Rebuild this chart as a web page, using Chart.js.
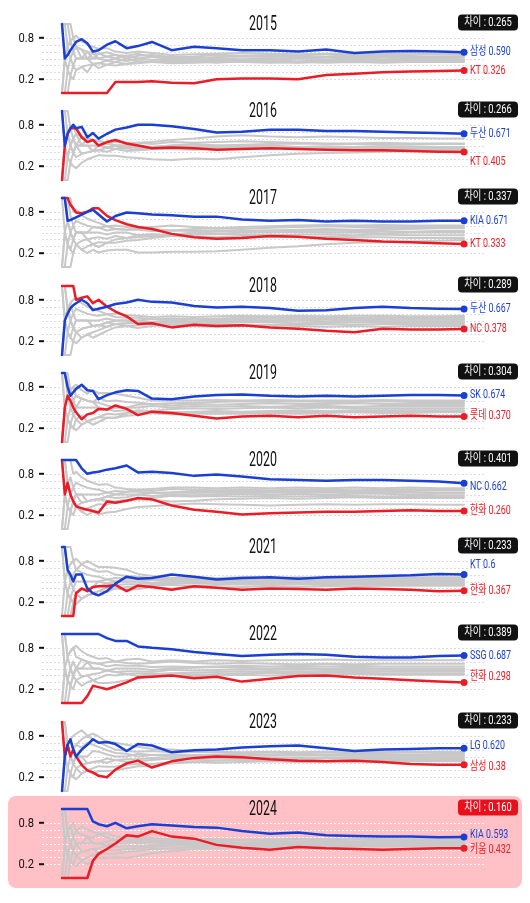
<!DOCTYPE html>
<html>
<head>
<meta charset="utf-8">
<script src="https://cdn.jsdelivr.net/npm/chart.js@4.4.1/dist/chart.umd.min.js"></script>
<style>
  body { margin: 0; background: #fff; }
  #page { position: relative; width: 530px; height: 903px; overflow: hidden; }
  #hl { position: absolute; left: 8px; top: 796px; width: 514px; height: 92px; background: #ffc1c6; border-radius: 8px; }
  canvas { position: absolute; left: 0; }
</style>
</head>
<body>
<div id="page"><div id="hl"></div></div>
<script>
// game number of each sampled point
const games = [1,2,3,4,5,6, 8,10,12,14, 17,20,24,28, 33,40,48,56, 65,75,85,95, 105,115,125,135, 144];
const years = [2015,2016,2017,2018,2019,2020,2021,2022,2023,2024];
const gapText = ['0.265','0.266','0.337','0.289','0.304','0.401','0.233','0.389','0.233','0.160'];
const topTeam = ['삼성','두산','KIA','두산','SK','NC','KT','SSG','LG','KIA'];
const topText = ['0.590','0.671','0.671','0.667','0.674','0.662','0.6','0.687','0.620','0.593'];
const bottomTeam = ['KT','KT','KT','NC','롯데','한화','한화','한화','삼성','키움'];
const bottomText = ['0.326','0.405','0.333','0.378','0.370','0.260','0.367','0.298','0.38','0.432'];
const gridValues = [0.2,0.3,0.4,0.5,0.6,0.7,0.8];
const tickValues = [0.8,0.2];

// win percentage of first / last team
const top2015 = [1,0.5,0.55,0.62,0.68,0.74, 0.78,0.72,0.6,0.62, 0.7,0.75,0.65,0.68, 0.74,0.62,0.67,0.65, 0.62,0.62,0.6,0.63, 0.58,0.6,0.61,0.6, 0.59];
const bottom2015 = [0,0,0,0,0,0, 0,0,0,0, 0,0.16,0.16,0.16, 0.17,0.15,0.14,0.2, 0.21,0.21,0.2,0.26, 0.28,0.3,0.31,0.32, 0.326];
const top2016 = [1,0.5,0.67,0.75,0.8,0.75, 0.77,0.62,0.68,0.6, 0.67,0.73,0.76,0.8, 0.8,0.78,0.74,0.69, 0.7,0.73,0.73,0.71, 0.71,0.7,0.69,0.68, 0.671];
const bottom2016 = [0,0.5,0.67,0.75,0.75,0.75, 0.62,0.55,0.58,0.5, 0.55,0.58,0.53,0.5, 0.46,0.47,0.46,0.44, 0.45,0.46,0.45,0.44, 0.43,0.43,0.42,0.41, 0.405];
const top2017 = [1,1,0.67,0.68,0.7,0.72, 0.76,0.8,0.83,0.76, 0.66,0.74,0.79,0.78, 0.76,0.75,0.73,0.73, 0.69,0.67,0.68,0.66, 0.67,0.66,0.66,0.67, 0.671];
const bottom2017 = [1,1,1,0.9,0.85,0.79, 0.78,0.8,0.85,0.85, 0.74,0.68,0.62,0.58, 0.55,0.48,0.43,0.41, 0.42,0.45,0.44,0.41, 0.39,0.37,0.36,0.345, 0.333];
const top2018 = [0,0.5,0.6,0.68,0.72,0.75, 0.8,0.75,0.65,0.67, 0.7,0.74,0.76,0.8, 0.77,0.76,0.71,0.69, 0.7,0.68,0.64,0.65, 0.68,0.7,0.68,0.67, 0.667];
const bottom2018 = [1,1,1,1,1,0.8, 0.83,0.85,0.75,0.8, 0.7,0.63,0.56,0.45, 0.46,0.4,0.44,0.42, 0.43,0.4,0.38,0.35, 0.33,0.38,0.37,0.37, 0.378];
const top2019 = [1,1,0.8,0.67,0.72,0.77, 0.83,0.75,0.74,0.62, 0.68,0.72,0.75,0.74, 0.63,0.62,0.66,0.68, 0.69,0.67,0.66,0.67, 0.66,0.67,0.68,0.68, 0.674];
const bottom2019 = [0,0.5,0.67,0.6,0.5,0.43, 0.33,0.4,0.42,0.48, 0.47,0.53,0.48,0.39, 0.44,0.42,0.38,0.34, 0.37,0.38,0.36,0.38, 0.36,0.37,0.38,0.37, 0.37];
const top2020 = [1,1,1,1,1,1, 0.88,0.8,0.82,0.83, 0.86,0.88,0.92,0.82, 0.83,0.81,0.77,0.79, 0.76,0.72,0.71,0.7, 0.71,0.71,0.7,0.69, 0.662];
const bottom2020 = [1,0.5,0.67,0.5,0.4,0.33, 0.3,0.28,0.26,0.24, 0.4,0.38,0.41,0.45, 0.43,0.34,0.28,0.25, 0.21,0.23,0.24,0.25, 0.25,0.26,0.27,0.26, 0.26];
const top2021 = [1,1,0.67,0.6,0.5,0.6, 0.6,0.4,0.33,0.3, 0.36,0.47,0.57,0.54, 0.55,0.6,0.57,0.53, 0.55,0.56,0.54,0.56, 0.57,0.58,0.59,0.61, 0.6];
const bottom2021 = [0,0,0,0,0,0.33, 0.4,0.36,0.42,0.43, 0.43,0.45,0.36,0.44, 0.42,0.38,0.43,0.41, 0.38,0.4,0.39,0.38, 0.4,0.39,0.38,0.36, 0.367];
const top2022 = [1,1,1,1,1,1, 1,1,1,1, 0.94,0.9,0.9,0.82, 0.8,0.78,0.74,0.71, 0.68,0.7,0.71,0.7, 0.67,0.66,0.66,0.68, 0.687];
const bottom2022 = [0,0,0,0,0,0, 0,0.1,0.25,0.23, 0.2,0.24,0.3,0.37, 0.38,0.4,0.36,0.38, 0.31,0.35,0.39,0.4, 0.37,0.35,0.33,0.31, 0.298];
const top2023 = [0,0.5,0.67,0.75,0.6,0.5, 0.6,0.67,0.75,0.7, 0.71,0.68,0.58,0.68, 0.66,0.56,0.59,0.6, 0.63,0.65,0.66,0.62, 0.58,0.6,0.61,0.62, 0.62];
const bottom2023 = [1,0.5,0.67,0.5,0.6,0.5, 0.38,0.3,0.27,0.22, 0.2,0.31,0.4,0.44, 0.34,0.43,0.48,0.5, 0.49,0.46,0.44,0.43, 0.44,0.42,0.39,0.38, 0.38];
const top2024 = [1,1,1,1,1,1, 1,1,0.82,0.78, 0.75,0.8,0.72,0.75, 0.78,0.76,0.74,0.73, 0.68,0.64,0.66,0.62, 0.61,0.6,0.6,0.59, 0.593];
const bottom2024 = [0,0,0,0,0,0, 0,0,0.25,0.35, 0.42,0.5,0.62,0.6, 0.68,0.6,0.57,0.48, 0.44,0.41,0.45,0.43, 0.42,0.41,0.42,0.43, 0.432];

// the other eight teams
const others2015 = [
  [1,1,1,1,0.8,0.83, 0.75,0.7,0.67,0.64, 0.65,0.6,0.58,0.6, 0.58,0.55,0.56,0.57, 0.58,0.57,0.56,0.57, 0.56,0.57,0.56,0.57, 0.57],
  [1,1,0.67,0.75,0.6,0.67, 0.63,0.6,0.5,0.57, 0.59,0.55,0.54,0.5, 0.52,0.53,0.5,0.52, 0.53,0.52,0.54,0.53, 0.55,0.54,0.55,0.56, 0.55],
  [0,0.5,0.33,0.5,0.6,0.5, 0.5,0.5,0.58,0.5, 0.47,0.5,0.46,0.5, 0.48,0.5,0.52,0.5, 0.49,0.5,0.51,0.52, 0.53,0.53,0.52,0.53, 0.53],
  [0,0,0.33,0.25,0.4,0.33, 0.38,0.4,0.42,0.43, 0.47,0.45,0.5,0.54, 0.55,0.52,0.53,0.55, 0.54,0.55,0.53,0.52, 0.51,0.52,0.51,0.52, 0.52],
  [1,0.5,0.67,0.5,0.4,0.5, 0.5,0.6,0.58,0.57, 0.53,0.55,0.5,0.46, 0.45,0.48,0.47,0.48, 0.47,0.48,0.5,0.49, 0.5,0.49,0.5,0.5, 0.49],
  [0,0,0,0.25,0.2,0.33, 0.38,0.3,0.42,0.36, 0.41,0.45,0.42,0.43, 0.45,0.45,0.46,0.44, 0.46,0.47,0.46,0.47, 0.48,0.47,0.48,0.48, 0.48],
  [1,1,1,0.75,0.8,0.67, 0.5,0.5,0.42,0.43, 0.41,0.4,0.42,0.46, 0.45,0.43,0.44,0.45, 0.46,0.45,0.44,0.46, 0.45,0.46,0.47,0.46, 0.47],
  [0,0.5,0.67,0.75,0.6,0.67, 0.63,0.5,0.5,0.5, 0.53,0.5,0.54,0.57, 0.52,0.5,0.48,0.47, 0.45,0.44,0.45,0.44, 0.45,0.44,0.45,0.45, 0.45]
];
const others2016 = [
  [0,0.5,0.33,0.5,0.4,0.5, 0.5,0.5,0.5,0.5, 0.53,0.5,0.5,0.54, 0.55,0.58,0.6,0.63, 0.65,0.63,0.62,0.63, 0.62,0.61,0.61,0.6, 0.6],
  [1,1,0.67,0.5,0.6,0.5, 0.5,0.6,0.58,0.57, 0.53,0.55,0.54,0.54, 0.52,0.55,0.54,0.55, 0.56,0.55,0.54,0.53, 0.53,0.54,0.53,0.53, 0.53],
  [1,0.5,0.67,0.75,0.6,0.5, 0.63,0.6,0.58,0.5, 0.47,0.5,0.5,0.46, 0.48,0.5,0.52,0.5, 0.51,0.52,0.53,0.52, 0.52,0.51,0.51,0.52, 0.52],
  [0,0,0,0.25,0.2,0.17, 0.25,0.3,0.33,0.36, 0.35,0.35,0.33,0.32, 0.3,0.29,0.31,0.3, 0.33,0.36,0.38,0.39, 0.4,0.41,0.42,0.42, 0.43],
  [1,1,1,0.75,0.8,0.67, 0.63,0.6,0.58,0.57, 0.53,0.5,0.46,0.5, 0.48,0.5,0.49,0.5, 0.49,0.5,0.48,0.49, 0.48,0.49,0.48,0.48, 0.48],
  [0,0.5,0.33,0.25,0.4,0.33, 0.38,0.4,0.42,0.43, 0.47,0.45,0.5,0.46, 0.45,0.48,0.47,0.46, 0.47,0.46,0.47,0.46, 0.47,0.47,0.46,0.47, 0.47],
  [1,0.5,0.67,0.5,0.6,0.67, 0.5,0.5,0.42,0.43, 0.41,0.45,0.42,0.43, 0.45,0.45,0.44,0.46, 0.45,0.46,0.47,0.46, 0.45,0.46,0.45,0.46, 0.45],
  [0,0,0.33,0.5,0.4,0.5, 0.38,0.4,0.42,0.5, 0.47,0.45,0.46,0.43, 0.45,0.47,0.48,0.49, 0.48,0.47,0.46,0.45, 0.46,0.45,0.44,0.44, 0.44]
];
const others2017 = [
  [1,1,1,0.75,0.6,0.67, 0.63,0.6,0.58,0.57, 0.59,0.6,0.58,0.57, 0.58,0.6,0.58,0.56, 0.58,0.59,0.6,0.61, 0.6,0.61,0.6,0.6, 0.6],
  [1,1,1,1,0.8,0.83, 0.75,0.7,0.67,0.64, 0.59,0.55,0.54,0.57, 0.55,0.53,0.55,0.56, 0.55,0.57,0.58,0.59, 0.58,0.58,0.58,0.58, 0.58],
  [0,0.5,0.67,0.5,0.6,0.5, 0.5,0.5,0.58,0.57, 0.53,0.55,0.54,0.54, 0.52,0.53,0.52,0.53, 0.52,0.53,0.54,0.55, 0.54,0.55,0.55,0.56, 0.56],
  [0,0,0.33,0.25,0.2,0.33, 0.38,0.4,0.33,0.36, 0.35,0.4,0.42,0.46, 0.45,0.47,0.5,0.51, 0.52,0.53,0.52,0.53, 0.52,0.52,0.51,0.52, 0.52],
  [0,0,0,0,0.2,0.33, 0.25,0.3,0.33,0.29, 0.35,0.35,0.38,0.39, 0.42,0.45,0.47,0.48, 0.5,0.5,0.51,0.5, 0.5,0.49,0.5,0.5, 0.5],
  [1,0.5,0.33,0.5,0.4,0.5, 0.5,0.5,0.5,0.5, 0.47,0.5,0.5,0.46, 0.48,0.45,0.47,0.48, 0.47,0.46,0.47,0.47, 0.46,0.47,0.46,0.46, 0.46],
  [0,0.5,0.33,0.25,0.4,0.33, 0.25,0.2,0.25,0.21, 0.24,0.25,0.25,0.21, 0.21,0.22,0.22,0.23, 0.25,0.28,0.3,0.33, 0.35,0.36,0.37,0.38, 0.39],
  [1,1,0.67,0.5,0.4,0.5, 0.5,0.4,0.42,0.43, 0.41,0.45,0.42,0.43, 0.45,0.45,0.44,0.43, 0.45,0.44,0.43,0.44, 0.43,0.43,0.42,0.42, 0.42]
];
const others2018 = [
  [1,1,0.67,0.75,0.8,0.83, 0.75,0.7,0.67,0.64, 0.59,0.6,0.58,0.57, 0.55,0.56,0.55,0.56, 0.57,0.56,0.57,0.56, 0.57,0.57,0.56,0.56, 0.57],
  [1,0.5,0.67,0.5,0.6,0.67, 0.63,0.6,0.58,0.57, 0.59,0.55,0.54,0.54, 0.52,0.53,0.52,0.53, 0.54,0.55,0.54,0.55, 0.54,0.55,0.55,0.55, 0.55],
  [0,0.5,0.67,0.75,0.6,0.5, 0.5,0.5,0.5,0.5, 0.53,0.5,0.5,0.5, 0.48,0.5,0.52,0.51, 0.52,0.53,0.52,0.53, 0.53,0.52,0.53,0.53, 0.53],
  [0,0,0.33,0.25,0.4,0.33, 0.38,0.4,0.42,0.43, 0.47,0.45,0.46,0.5, 0.52,0.5,0.49,0.5, 0.51,0.5,0.51,0.52, 0.51,0.51,0.51,0.51, 0.51],
  [1,0.5,0.33,0.25,0.2,0.33, 0.38,0.4,0.42,0.43, 0.47,0.5,0.5,0.46, 0.48,0.47,0.48,0.49, 0.48,0.49,0.5,0.49, 0.5,0.49,0.49,0.49, 0.49],
  [0,0,0,0,0.2,0.17, 0.25,0.3,0.33,0.36, 0.41,0.45,0.46,0.46, 0.45,0.47,0.46,0.47, 0.48,0.47,0.46,0.47, 0.47,0.48,0.47,0.47, 0.47],
  [0,0.5,0.33,0.5,0.4,0.33, 0.25,0.3,0.25,0.29, 0.35,0.4,0.42,0.43, 0.45,0.43,0.44,0.45, 0.44,0.43,0.44,0.45, 0.44,0.45,0.45,0.45, 0.45],
  [1,1,0.67,0.5,0.4,0.5, 0.5,0.5,0.42,0.43, 0.41,0.45,0.42,0.39, 0.42,0.44,0.42,0.41, 0.42,0.43,0.42,0.41, 0.42,0.41,0.42,0.42, 0.42]
];
const others2019 = [
  [1,1,1,0.75,0.8,0.83, 0.75,0.7,0.75,0.71, 0.71,0.7,0.67,0.64, 0.6,0.6,0.6,0.61, 0.6,0.61,0.6,0.6, 0.6,0.61,0.6,0.6, 0.6],
  [1,1,0.67,0.75,0.6,0.67, 0.63,0.6,0.58,0.64, 0.59,0.6,0.58,0.57, 0.55,0.56,0.57,0.58, 0.59,0.58,0.59,0.58, 0.58,0.59,0.58,0.58, 0.58],
  [0,0.5,0.67,0.5,0.6,0.5, 0.63,0.6,0.58,0.57, 0.53,0.5,0.5,0.54, 0.55,0.53,0.55,0.54, 0.55,0.56,0.55,0.55, 0.56,0.55,0.55,0.55, 0.55],
  [1,0.5,0.33,0.5,0.4,0.5, 0.5,0.5,0.5,0.5, 0.47,0.5,0.5,0.5, 0.52,0.5,0.52,0.51, 0.52,0.51,0.52,0.52, 0.51,0.52,0.52,0.52, 0.52],
  [0,0,0.33,0.25,0.4,0.33, 0.38,0.3,0.33,0.36, 0.41,0.4,0.42,0.46, 0.45,0.48,0.49,0.48, 0.49,0.5,0.49,0.5, 0.49,0.49,0.49,0.49, 0.49],
  [0,0,0,0.25,0.2,0.17, 0.25,0.3,0.25,0.29, 0.35,0.35,0.38,0.39, 0.42,0.43,0.44,0.45, 0.44,0.45,0.46,0.45, 0.46,0.46,0.46,0.46, 0.46],
  [1,0.5,0.33,0.25,0.2,0.33, 0.25,0.3,0.33,0.36, 0.35,0.35,0.42,0.43, 0.42,0.43,0.42,0.41, 0.42,0.43,0.44,0.43, 0.44,0.44,0.44,0.44, 0.44],
  [0,0.5,0.67,0.75,0.8,0.67, 0.63,0.6,0.58,0.5, 0.47,0.45,0.46,0.43, 0.42,0.4,0.41,0.42, 0.41,0.42,0.41,0.42, 0.43,0.42,0.42,0.43, 0.43]
];
const others2020 = [
  [1,1,1,1,0.8,0.83, 0.75,0.7,0.67,0.64, 0.65,0.6,0.58,0.57, 0.58,0.6,0.6,0.59, 0.6,0.59,0.6,0.59, 0.6,0.59,0.6,0.59, 0.59],
  [1,1,0.67,0.75,0.6,0.67, 0.63,0.6,0.58,0.57, 0.53,0.55,0.54,0.57, 0.55,0.58,0.57,0.56, 0.57,0.56,0.57,0.57, 0.56,0.57,0.57,0.57, 0.57],
  [0,0.5,0.67,0.5,0.6,0.5, 0.5,0.5,0.5,0.5, 0.53,0.5,0.54,0.54, 0.52,0.53,0.55,0.54, 0.55,0.54,0.55,0.55, 0.55,0.55,0.55,0.56, 0.56],
  [1,0.5,0.33,0.5,0.4,0.5, 0.38,0.4,0.42,0.43, 0.47,0.5,0.5,0.5, 0.52,0.53,0.52,0.53, 0.52,0.53,0.54,0.53, 0.54,0.53,0.53,0.53, 0.53],
  [0,0,0.33,0.25,0.4,0.33, 0.38,0.4,0.42,0.43, 0.47,0.45,0.46,0.5, 0.48,0.5,0.49,0.5, 0.51,0.5,0.51,0.5, 0.51,0.51,0.5,0.51, 0.51],
  [0,0,0,0.25,0.2,0.33, 0.25,0.3,0.33,0.36, 0.35,0.4,0.42,0.43, 0.45,0.48,0.47,0.48, 0.47,0.48,0.47,0.48, 0.48,0.47,0.48,0.48, 0.48],
  [1,1,0.67,0.5,0.4,0.33, 0.25,0.2,0.25,0.21, 0.24,0.25,0.29,0.32, 0.33,0.35,0.37,0.36, 0.35,0.34,0.35,0.36, 0.35,0.36,0.36,0.35, 0.35],
  [0,0.5,0.33,0.25,0.4,0.5, 0.5,0.4,0.42,0.43, 0.41,0.4,0.42,0.43, 0.42,0.4,0.41,0.43, 0.44,0.45,0.44,0.45, 0.46,0.45,0.45,0.45, 0.45]
];
const others2021 = [
  [1,1,1,1,0.8,0.83, 0.75,0.8,0.75,0.71, 0.71,0.7,0.67,0.61, 0.58,0.55,0.56,0.55, 0.56,0.55,0.56,0.55, 0.56,0.55,0.56,0.56, 0.56],
  [1,1,0.67,0.75,0.8,0.67, 0.75,0.7,0.67,0.64, 0.65,0.6,0.58,0.57, 0.55,0.53,0.54,0.55, 0.54,0.55,0.54,0.55, 0.54,0.54,0.55,0.54, 0.54],
  [1,0.5,0.67,0.5,0.6,0.67, 0.63,0.6,0.58,0.57, 0.53,0.55,0.54,0.54, 0.52,0.53,0.52,0.53, 0.52,0.53,0.52,0.53, 0.52,0.52,0.52,0.53, 0.53],
  [0,0.5,0.33,0.5,0.4,0.5, 0.5,0.5,0.5,0.5, 0.53,0.5,0.5,0.5, 0.52,0.5,0.51,0.5, 0.51,0.5,0.51,0.5, 0.51,0.51,0.51,0.51, 0.51],
  [0,0,0.33,0.25,0.4,0.33, 0.38,0.4,0.42,0.43, 0.47,0.45,0.46,0.46, 0.48,0.5,0.49,0.5, 0.49,0.5,0.49,0.5, 0.49,0.5,0.5,0.5, 0.5],
  [0,0,0,0.25,0.2,0.33, 0.38,0.4,0.42,0.5, 0.47,0.5,0.5,0.5, 0.48,0.47,0.48,0.47, 0.48,0.47,0.48,0.47, 0.48,0.48,0.48,0.48, 0.48],
  [1,0.5,0.33,0.25,0.2,0.17, 0.25,0.3,0.33,0.36, 0.41,0.4,0.42,0.43, 0.45,0.45,0.44,0.45, 0.46,0.45,0.46,0.45, 0.46,0.46,0.46,0.46, 0.46],
  [0,0,0,0,0.2,0.33, 0.25,0.3,0.33,0.36, 0.35,0.4,0.38,0.39, 0.42,0.4,0.42,0.41, 0.42,0.43,0.42,0.43, 0.43,0.44,0.44,0.44, 0.44]
];
const others2022 = [
  [1,1,0.67,0.75,0.8,0.83, 0.75,0.7,0.67,0.64, 0.65,0.6,0.63,0.64, 0.6,0.62,0.6,0.62, 0.61,0.62,0.62,0.63, 0.62,0.62,0.62,0.62, 0.62],
  [0,0.5,0.67,0.75,0.8,0.67, 0.63,0.6,0.58,0.57, 0.59,0.6,0.58,0.57, 0.58,0.6,0.58,0.57, 0.58,0.57,0.56,0.57, 0.56,0.57,0.57,0.57, 0.57],
  [1,0.5,0.33,0.5,0.6,0.5, 0.63,0.6,0.58,0.57, 0.53,0.55,0.54,0.54, 0.52,0.53,0.52,0.53, 0.54,0.53,0.54,0.53, 0.54,0.53,0.53,0.53, 0.53],
  [1,1,0.67,0.5,0.4,0.5, 0.5,0.5,0.5,0.5, 0.47,0.5,0.5,0.5, 0.48,0.5,0.51,0.52, 0.51,0.5,0.51,0.5, 0.51,0.5,0.5,0.5, 0.5],
  [0,0,0.33,0.25,0.4,0.33, 0.38,0.4,0.42,0.43, 0.47,0.45,0.46,0.46, 0.45,0.48,0.47,0.48, 0.49,0.48,0.49,0.48, 0.48,0.49,0.48,0.48, 0.48],
  [0,0.5,0.33,0.5,0.4,0.5, 0.38,0.4,0.33,0.36, 0.41,0.4,0.42,0.39, 0.42,0.43,0.44,0.45, 0.46,0.45,0.46,0.45, 0.46,0.46,0.46,0.46, 0.46],
  [1,0.5,0.33,0.25,0.2,0.33, 0.25,0.3,0.33,0.29, 0.29,0.3,0.33,0.36, 0.39,0.4,0.41,0.42, 0.43,0.44,0.43,0.44, 0.44,0.43,0.43,0.43, 0.43],
  [0,0,0,0.25,0.4,0.5, 0.5,0.6,0.5,0.5, 0.47,0.45,0.42,0.43, 0.42,0.4,0.39,0.4, 0.41,0.4,0.41,0.41, 0.42,0.41,0.41,0.41, 0.41]
];
const others2023 = [
  [1,1,0.67,0.75,0.8,0.83, 0.88,0.8,0.83,0.79, 0.71,0.7,0.67,0.64, 0.61,0.6,0.58,0.57, 0.56,0.57,0.56,0.57, 0.56,0.57,0.57,0.57, 0.57],
  [1,0.5,0.67,0.75,0.6,0.67, 0.75,0.8,0.75,0.71, 0.65,0.6,0.58,0.57, 0.58,0.56,0.57,0.56, 0.55,0.56,0.55,0.56, 0.55,0.55,0.56,0.55, 0.55],
  [0,0.5,0.67,0.5,0.6,0.67, 0.63,0.7,0.67,0.64, 0.59,0.55,0.54,0.5, 0.52,0.53,0.52,0.53, 0.54,0.53,0.54,0.53, 0.54,0.53,0.53,0.53, 0.53],
  [0,0.5,0.33,0.5,0.4,0.5, 0.5,0.5,0.58,0.57, 0.53,0.5,0.5,0.54, 0.52,0.5,0.51,0.52, 0.51,0.52,0.51,0.52, 0.51,0.51,0.51,0.51, 0.51],
  [1,0.5,0.33,0.25,0.4,0.5, 0.5,0.4,0.42,0.43, 0.47,0.45,0.46,0.46, 0.48,0.47,0.48,0.49, 0.48,0.49,0.48,0.49, 0.49,0.49,0.49,0.49, 0.49],
  [0,0,0.33,0.25,0.2,0.33, 0.38,0.4,0.42,0.43, 0.41,0.45,0.42,0.43, 0.45,0.47,0.46,0.47, 0.46,0.47,0.46,0.47, 0.47,0.47,0.47,0.47, 0.47],
  [0,0,0,0.25,0.2,0.17, 0.25,0.3,0.33,0.36, 0.35,0.35,0.38,0.39, 0.39,0.42,0.43,0.44, 0.45,0.44,0.45,0.44, 0.45,0.45,0.45,0.45, 0.45],
  [1,1,0.67,0.5,0.4,0.33, 0.25,0.3,0.25,0.29, 0.29,0.3,0.33,0.36, 0.36,0.4,0.42,0.41, 0.42,0.43,0.42,0.43, 0.43,0.43,0.43,0.43, 0.43]
];
const others2024 = [
  [1,1,0.67,0.75,0.8,0.67, 0.75,0.7,0.67,0.64, 0.65,0.6,0.58,0.6, 0.58,0.56,0.57,0.56, 0.55,0.56,0.57,0.56, 0.57,0.56,0.56,0.56, 0.56],
  [1,0.5,0.67,0.75,0.6,0.67, 0.63,0.6,0.58,0.64, 0.59,0.55,0.54,0.57, 0.55,0.53,0.55,0.54, 0.55,0.54,0.53,0.54, 0.53,0.54,0.54,0.54, 0.54],
  [0,0.5,0.67,0.5,0.6,0.5, 0.5,0.5,0.5,0.5, 0.53,0.55,0.54,0.5, 0.52,0.5,0.51,0.52, 0.51,0.52,0.52,0.53, 0.52,0.52,0.52,0.52, 0.52],
  [1,1,0.67,0.5,0.4,0.5, 0.5,0.6,0.5,0.5, 0.47,0.5,0.5,0.54, 0.52,0.53,0.52,0.51, 0.5,0.51,0.5,0.51, 0.5,0.51,0.51,0.51, 0.51],
  [0,0,0.33,0.5,0.4,0.5, 0.38,0.4,0.42,0.43, 0.47,0.45,0.46,0.46, 0.48,0.5,0.49,0.5, 0.49,0.5,0.49,0.5, 0.49,0.5,0.5,0.5, 0.5],
  [0,0.5,0.33,0.25,0.4,0.33, 0.38,0.4,0.42,0.36, 0.41,0.4,0.42,0.43, 0.45,0.47,0.48,0.47, 0.48,0.49,0.48,0.48, 0.49,0.48,0.48,0.48, 0.48],
  [1,0.5,0.33,0.25,0.2,0.33, 0.25,0.3,0.33,0.36, 0.35,0.35,0.38,0.39, 0.42,0.43,0.45,0.46, 0.47,0.46,0.47,0.46, 0.47,0.47,0.47,0.47, 0.47],
  [0,0,0,0.25,0.2,0.17, 0.25,0.2,0.25,0.29, 0.29,0.3,0.29,0.32, 0.36,0.39,0.42,0.43, 0.44,0.45,0.46,0.45, 0.46,0.46,0.46,0.46, 0.46]
];

const tops = [top2015, top2016, top2017, top2018, top2019, top2020, top2021, top2022, top2023, top2024];
const bottoms = [bottom2015, bottom2016, bottom2017, bottom2018, bottom2019, bottom2020, bottom2021, bottom2022, bottom2023, bottom2024];
const others = [others2015, others2016, others2017, others2018, others2019, others2020, others2021, others2022, others2023, others2024];

// label shifts so end labels don't collide
const topNudge = [0, 0, 0, 0, 0, 4, -10, 0, -2, -2];
const bottomNudge = [0, 10, 0, 0, 0, 0, 0, -5, 2, 2];

const BLUE = '#1b3fd3';
const RED = '#ec1c26';
const GREY = '#c8c8c8';
const FONT = 'Roboto, "Noto Sans CJK KR", sans-serif';

function squeezeText(ctx, txt, x, y, align, sx) {
  ctx.save();
  ctx.translate(x, y);
  ctx.scale(sx, 1);
  ctx.textAlign = align;
  ctx.fillText(txt, 0, 0);
  ctx.restore();
}

const decor = {
  id: 'decor',
  beforeDatasetsDraw(chart, args, o) {
    const ctx = chart.ctx, ys = chart.scales.y;
    ctx.save();
    ctx.strokeStyle = o.gridColor;
    ctx.lineWidth = 1;
    ctx.setLineDash([2, 2]);
    gridValues.forEach(v => {
      const py = Math.round(ys.getPixelForValue(v)) + 0.5;
      ctx.beginPath(); ctx.moveTo(42, py); ctx.lineTo(484, py); ctx.stroke();
    });
    ctx.setLineDash([]);
    ctx.fillStyle = '#111';
    ctx.strokeStyle = '#111';
    ctx.lineWidth = 2;
    ctx.font = '13px ' + FONT;
    ctx.textBaseline = 'middle';
    tickValues.forEach(v => {
      const py = ys.getPixelForValue(v);
      squeezeText(ctx, v.toFixed(1), 34, py + 0.5, 'right', 0.86);
      ctx.beginPath(); ctx.moveTo(39, py); ctx.lineTo(44, py); ctx.stroke();
    });
    ctx.restore();
  },
  afterDatasetsDraw(chart, args, o) {
    const ctx = chart.ctx, ys = chart.scales.y, xs = chart.scales.x;
    const top = chart.chartArea.top;
    ctx.save();
    // year title
    ctx.fillStyle = '#111';
    ctx.font = '20px ' + FONT;
    ctx.textBaseline = 'alphabetic';
    squeezeText(ctx, String(o.year), (chart.chartArea.left + chart.chartArea.right) / 2, top + 6, 'center', 0.62);
    // gap badge
    ctx.fillStyle = o.badgeColor;
    ctx.beginPath();
    ctx.roundRect(458, top - 9.5, 60, 16, 4);
    ctx.fill();
    ctx.fillStyle = '#fff';
    ctx.font = '12px ' + FONT;
    ctx.textBaseline = 'middle';
    squeezeText(ctx, '차이 : ' + o.gap, 488, top - 1, 'center', 0.78);
    // end labels
    const lastX = xs.getPixelForValue(games[games.length - 1]) + 6;
    ctx.fillStyle = BLUE;
    squeezeText(ctx, o.topLabel, lastX, ys.getPixelForValue(o.topValue) + o.topNudge, 'left', 0.74);
    ctx.fillStyle = RED;
    squeezeText(ctx, o.bottomLabel, lastX, ys.getPixelForValue(o.bottomValue) + o.bottomNudge, 'left', 0.74);
    ctx.restore();
  }
};

const page = document.getElementById('page');
const lastIdx = games.length - 1;

years.forEach((year, i) => {
  const canvas = document.createElement('canvas');
  canvas.width = 530;
  canvas.height = 100;
  canvas.style.top = Math.round(i * 87.2) + 'px';
  page.appendChild(canvas);

  const toPoints = arr => arr.map((v, k) => ({ x: games[k], y: v }));
  const datasets = [
    {
      data: toPoints(tops[i]), borderColor: BLUE, backgroundColor: BLUE, borderWidth: 2.5,
      pointRadius: c => c.dataIndex === lastIdx ? 3.5 : 0, pointBorderWidth: 0, clip: false
    },
    {
      data: toPoints(bottoms[i]), borderColor: RED, backgroundColor: RED, borderWidth: 2.5,
      pointRadius: c => c.dataIndex === lastIdx ? 3.5 : 0, pointBorderWidth: 0, clip: false
    }
  ];
  others[i].forEach(arr => {
    datasets.push({ data: toPoints(arr), borderColor: GREY, borderWidth: 2, pointRadius: 0, clip: false });
  });

  new Chart(canvas.getContext('2d'), {
    type: 'line',
    data: { datasets: datasets },
    options: {
      responsive: false,
      animation: false,
      devicePixelRatio: 1,
      layout: { padding: { left: 62, right: 66, top: 24, bottom: 7 } },
      elements: { line: { tension: 0, borderJoinStyle: 'round', borderCapStyle: 'round' } },
      scales: {
        x: { type: 'linear', min: 1, max: 144, display: false },
        y: { min: 0, max: 1, display: false }
      },
      plugins: {
        legend: { display: false },
        tooltip: { enabled: false },
        decor: {
          year: year,
          gap: gapText[i],
          badgeColor: year === 2024 ? '#e8101c' : '#111',
          gridColor: year === 2024 ? 'rgba(255,255,255,0.95)' : '#dcdcdc',
          topLabel: topTeam[i] + ' ' + topText[i],
          bottomLabel: bottomTeam[i] + ' ' + bottomText[i],
          topValue: tops[i][lastIdx],
          bottomValue: bottoms[i][lastIdx],
          topNudge: topNudge[i],
          bottomNudge: bottomNudge[i]
        }
      }
    },
    plugins: [decor]
  });
});
</script>
</body>
</html>
